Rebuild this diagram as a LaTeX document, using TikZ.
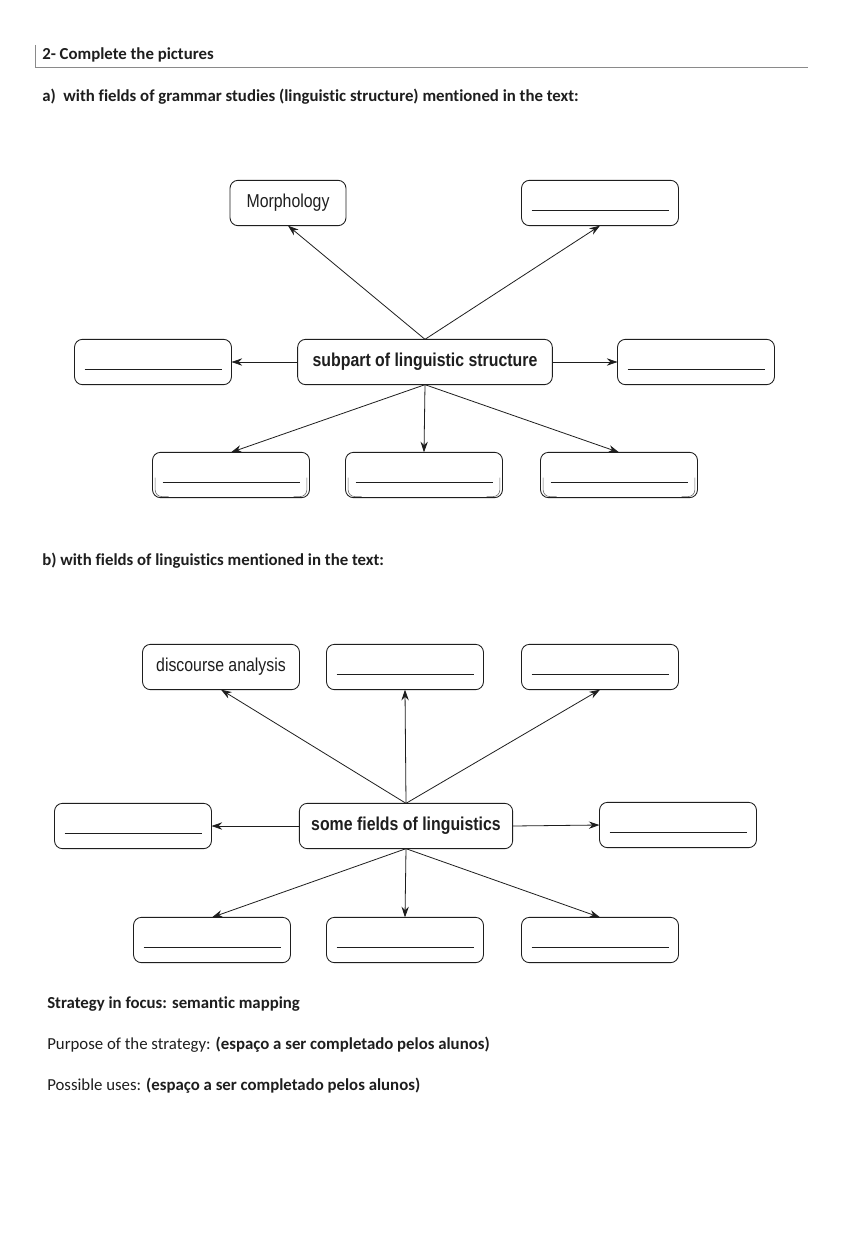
\documentclass[tikz,border=0pt]{standalone}
\usepackage{fontspec}
\setmainfont[Ligatures={NoCommon}]{Carlito}
\newfontfamily\boxfont[FakeStretch=0.85]{Liberation Sans}
\usetikzlibrary{arrows.meta,positioning}
\definecolor{ink}{HTML}{1E1E1E}
\definecolor{rulegray}{HTML}{8A8A8A}
\tikzset{
    fieldbox/.style={draw=ink,rounded corners=6pt,line width=0.65pt,
      minimum width=117.75pt,minimum height=34pt,inner sep=2pt,outer sep=0pt,
      text=ink,font=\boxfont\fontsize{14}{16}\selectfont},
    hubbox/.style={fieldbox,font=\boxfont\bfseries\fontsize{14}{16}\selectfont},
    maparrow/.style={-{Stealth[length=8pt,width=5.5pt]},draw=ink,line width=0.6pt},
    blankline/.style={draw=ink,line width=0.65pt},
    ghostline/.style={draw=ink!65,line width=0.45pt,rounded corners=5pt},
    sheettext/.style={anchor=west,inner sep=0pt,text=ink,
      font=\fontsize{12.6}{15}\selectfont},
    sheethead/.style={sheettext,font=\bfseries\fontsize{12.6}{15}\selectfont}
}
\begin{document}
\begin{tikzpicture}[x=0.75pt,y=-0.75pt]
  \useasboundingbox[fill=white] (0,0) rectangle (851,1238);
  % heading
  \draw[rulegray,line width=0.5pt] (35,45) -- (35,67) -- (808,67);
  \node[sheethead] (title) at (42,55) {2- Complete the pictures};
  \node[sheethead] (taskA) at (42,97) {a)\ \ with fields of grammar studies (linguistic structure) mentioned in the text:};

  % map a
  \node[hubbox,minimum width=191pt] (hubA) at (425,362) {subpart of linguistic structure};
  \node[fieldbox,minimum width=87pt] (a1) at (288,203) {Morphology};
  \node[fieldbox] (a2) at (600,203) {};
  \node[fieldbox] (a3) at (153,362) {};
  \node[fieldbox] (a4) at (696,362) {};
  \node[fieldbox] (a5) at (231,475) {};
  \node[fieldbox] (a6) at (424,475) {};
  \node[fieldbox] (a7) at (619,475) {};
  \draw[maparrow] (hubA.north) -- (a1.south);
  \draw[maparrow] (hubA.north) -- (a2.south);
  \draw[maparrow] (hubA.west) -- (a3.east);
  \draw[maparrow] (hubA.east) -- (a4.west);
  \foreach \n in {a5,a6,a7}{
    \draw[maparrow] (hubA.south) -- (\n.north);
    % doubled edges from the copy
    \draw[ghostline] ([xshift=2pt,yshift=-2pt]\n.west) -- ([xshift=2pt,yshift=0.8pt]\n.south west) -- ([xshift=12pt,yshift=0.8pt]\n.south west);
    \draw[ghostline] ([xshift=-2pt,yshift=-2pt]\n.east) -- ([xshift=-2pt,yshift=0.8pt]\n.south east) -- ([xshift=-12pt,yshift=0.8pt]\n.south east);}

  % map b
  \node[sheethead] (taskB) at (42,561) {b) with fields of linguistics mentioned in the text:};
  \node[hubbox,minimum width=160pt] (hubB) at (406,826) {some fields of linguistics};
  \node[fieldbox] (b1) at (221,667) {discourse analysis};
  \node[fieldbox] (b2) at (405,667) {};
  \node[fieldbox] (b3) at (600,667) {};
  \node[fieldbox] (b4) at (133,826) {};
  \node[fieldbox] (b5) at (678,825) {};
  \node[fieldbox] (b6) at (212,940) {};
  \node[fieldbox] (b7) at (405,940) {};
  \node[fieldbox] (b8) at (600,940) {};
  \foreach \n in {b1,b2,b3}
    \draw[maparrow] (hubB.north) -- (\n.south);
  \draw[maparrow] (hubB.west) -- (b4.east);
  \draw[maparrow] (hubB.east) -- (b5.west);
  \foreach \n in {b6,b7,b8}
    \draw[maparrow] (hubB.south) -- (\n.north);

  % blanks to fill in
  \foreach \n in {a2,a3,a4,a5,a6,a7,b2,b3,b4,b5,b6,b7,b8}
    \draw[blankline] ([xshift=7.5pt,yshift=-5.5pt]\n.west) -- ([xshift=-7.5pt,yshift=-5.5pt]\n.east);

  % strategy notes
  \node[sheethead] (focus) at (47,1004) {Strategy in focus: semantic mapping};
  \node[sheettext] (purpose) at (47,1045) {Purpose of the strategy: \textbf{(espaço a ser completado pelos alunos)}};
  \node[sheettext] (uses) at (47,1086) {Possible uses: \textbf{(espaço a ser completado pelos alunos)}};
\end{tikzpicture}
\end{document}
